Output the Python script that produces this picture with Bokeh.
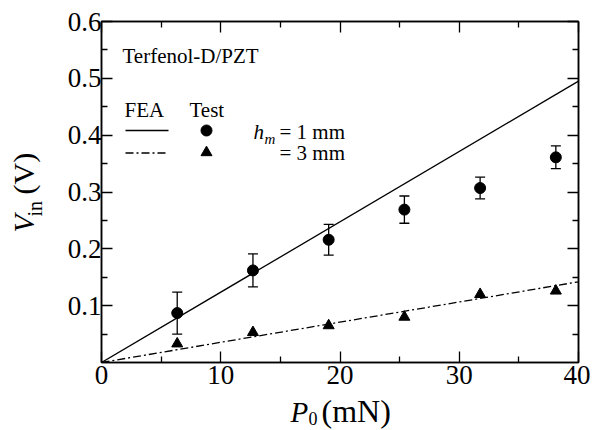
import math
from bokeh.plotting import figure
from bokeh.models import (ColumnDataSource, Whisker, TeeHead, LinearAxis,
                          FixedTicker, Range1d)
from bokeh.core.properties import value
from bokeh.embed import file_html
from bokeh.resources import INLINE

# ---- data ----
p0_test = [6.35, 12.7, 19.05, 25.4, 31.75, 38.1]
vin_1mm = [0.087, 0.162, 0.216, 0.269, 0.307, 0.361]
err_1mm = [0.037, 0.029, 0.027, 0.024, 0.019, 0.020]
vin_3mm = [0.033, 0.053, 0.065, 0.080, 0.120, 0.126]
fea_p0 = [0, 40]
fea_1mm = [0, 0.495]
fea_3mm = [0, 0.142]
x_ticks = [0, 10, 20, 30, 40]
x_minor = [5, 15, 25, 35]
y_ticks = [0.1, 0.2, 0.3, 0.4, 0.5, 0.6]
y_minor = [0.05, 0.15, 0.25, 0.35, 0.45, 0.55]

FONT = "Liberation Serif"

# frame placement in page pixels
FL, FR, FT, FB = 101, 578, 21, 362
W, H = 590, 430


def dx(px):
    return (px - FL) / (FR - FL) * 40.0


def dy(py):
    return (FB - py) / (FB - FT) * 0.6


p = figure(width=W, height=H, x_range=Range1d(0, 40), y_range=Range1d(0, 0.6),
           output_backend="svg", toolbar_location=None,
           min_border_left=FL, min_border_right=W - FR,
           min_border_top=FT, min_border_bottom=H - FB)
p.xgrid.visible = False
p.ygrid.visible = False
p.outline_line_color = "black"
p.outline_line_width = 1.5
p.background_fill_color = "white"
p.border_fill_color = "white"


def style(ax, ticks, minor, labels):
    ax.ticker = FixedTicker(ticks=ticks, minor_ticks=minor)
    ax.major_tick_in = 11
    ax.major_tick_out = 0
    ax.minor_tick_in = 6
    ax.minor_tick_out = 0
    ax.axis_line_color = "black"
    ax.axis_line_width = 1.5
    ax.major_tick_line_color = "black"
    ax.major_tick_line_width = 1.3
    ax.minor_tick_line_color = "black"
    ax.minor_tick_line_width = 1.3
    ax.axis_label = None
    if labels:
        ax.major_label_text_font = FONT
        ax.major_label_text_font_size = "27px"
        ax.major_label_text_color = "black"
    else:
        ax.major_label_overrides = {t: "" for t in ticks}
        ax.major_label_text_font_size = "0px"
        ax.major_label_standoff = 0


style(p.xaxis[0], x_ticks, x_minor, True)
p.xaxis[0].major_label_standoff = 3
style(p.yaxis[0], y_ticks, y_minor, True)
p.yaxis[0].major_label_standoff = 0

top = LinearAxis()
style(top, x_ticks, x_minor, False)
p.add_layout(top, "above")
right = LinearAxis()
style(right, y_ticks, y_minor, False)
p.add_layout(right, "right")

DASHDOT = "8 3 2 3"

# ---- FEA lines ----
p.line(fea_p0, fea_1mm, line_color="black", line_width=1.3)
p.line(fea_p0, fea_3mm, line_color="black", line_width=1.3, line_dash=DASHDOT)

# ---- test data ----
lo = [v - e for v, e in zip(vin_1mm, err_1mm)]
hi = [v + e for v, e in zip(vin_1mm, err_1mm)]
src1 = ColumnDataSource(dict(x=p0_test, y=vin_1mm, lower=lo, upper=hi))
src3 = ColumnDataSource(dict(x=p0_test, y=vin_3mm))
p.add_layout(Whisker(source=src1, base="x", upper="upper", lower="lower",
                     dimension="height", line_color="black", line_width=1.3,
                     upper_head=TeeHead(size=10, line_color="black", line_width=1.3),
                     lower_head=TeeHead(size=10, line_color="black", line_width=1.3)))
p.scatter("x", "y", source=src1, marker="circle", size=11,
          fill_color="black", line_color="black")
p.scatter("x", "y", source=src3, marker="triangle", size=11,
          fill_color="black", line_color="black")

# ---- in-plot legend block ----
p.line([dx(125), dx(168)], [dy(130), dy(130)], line_color="black", line_width=1.3)
p.line([dx(125), dx(168)], [dy(152.5), dy(152.5)], line_color="black",
       line_width=1.3, line_dash=DASHDOT)
p.scatter([dx(206)], [dy(130)], marker="circle", size=11, fill_color="black",
          line_color="black")
p.scatter([dx(206)], [dy(152)], marker="triangle", size=11, fill_color="black",
          line_color="black")

K = 0.37  # baseline correction (fraction of font size)


def txt(px, py, s, size=22, fstyle="normal", angle=0.0):
    if angle == 0.0:
        py = py - K * size
    else:
        px = px - K * size
    p.text(x=[dx(px)], y=[dy(py)], text=[s], text_font=value(FONT),
           text_font_size=value(f"{size}px"), text_font_style=value(fstyle),
           text_color="black", text_align="left", text_baseline="alphabetic",
           angle=angle, level="overlay")


txt(122, 63, "Terfenol-D/PZT", size=21)
txt(124, 117, "FEA", size=21)
txt(189, 117, "Test", size=21)
txt(253, 139, "h", size=21, fstyle="italic")
txt(264, 144, "m", size=15, fstyle="italic")
txt(279, 139, "= 1 mm", size=21)
txt(279, 160, "= 3 mm", size=21)

# axis titles
txt(290, 422, "P", size=29, fstyle="italic")
txt(308, 425, "0", size=18)
txt(321, 422, "(mN)", size=32)
txt(34, 232, "V", size=29, fstyle="italic", angle=math.pi / 2)
txt(42, 216, "in", size=20, angle=math.pi / 2)
txt(34, 194, "(V)", size=30, angle=math.pi / 2)

open("out.html", "w").write(file_html(p, INLINE))
